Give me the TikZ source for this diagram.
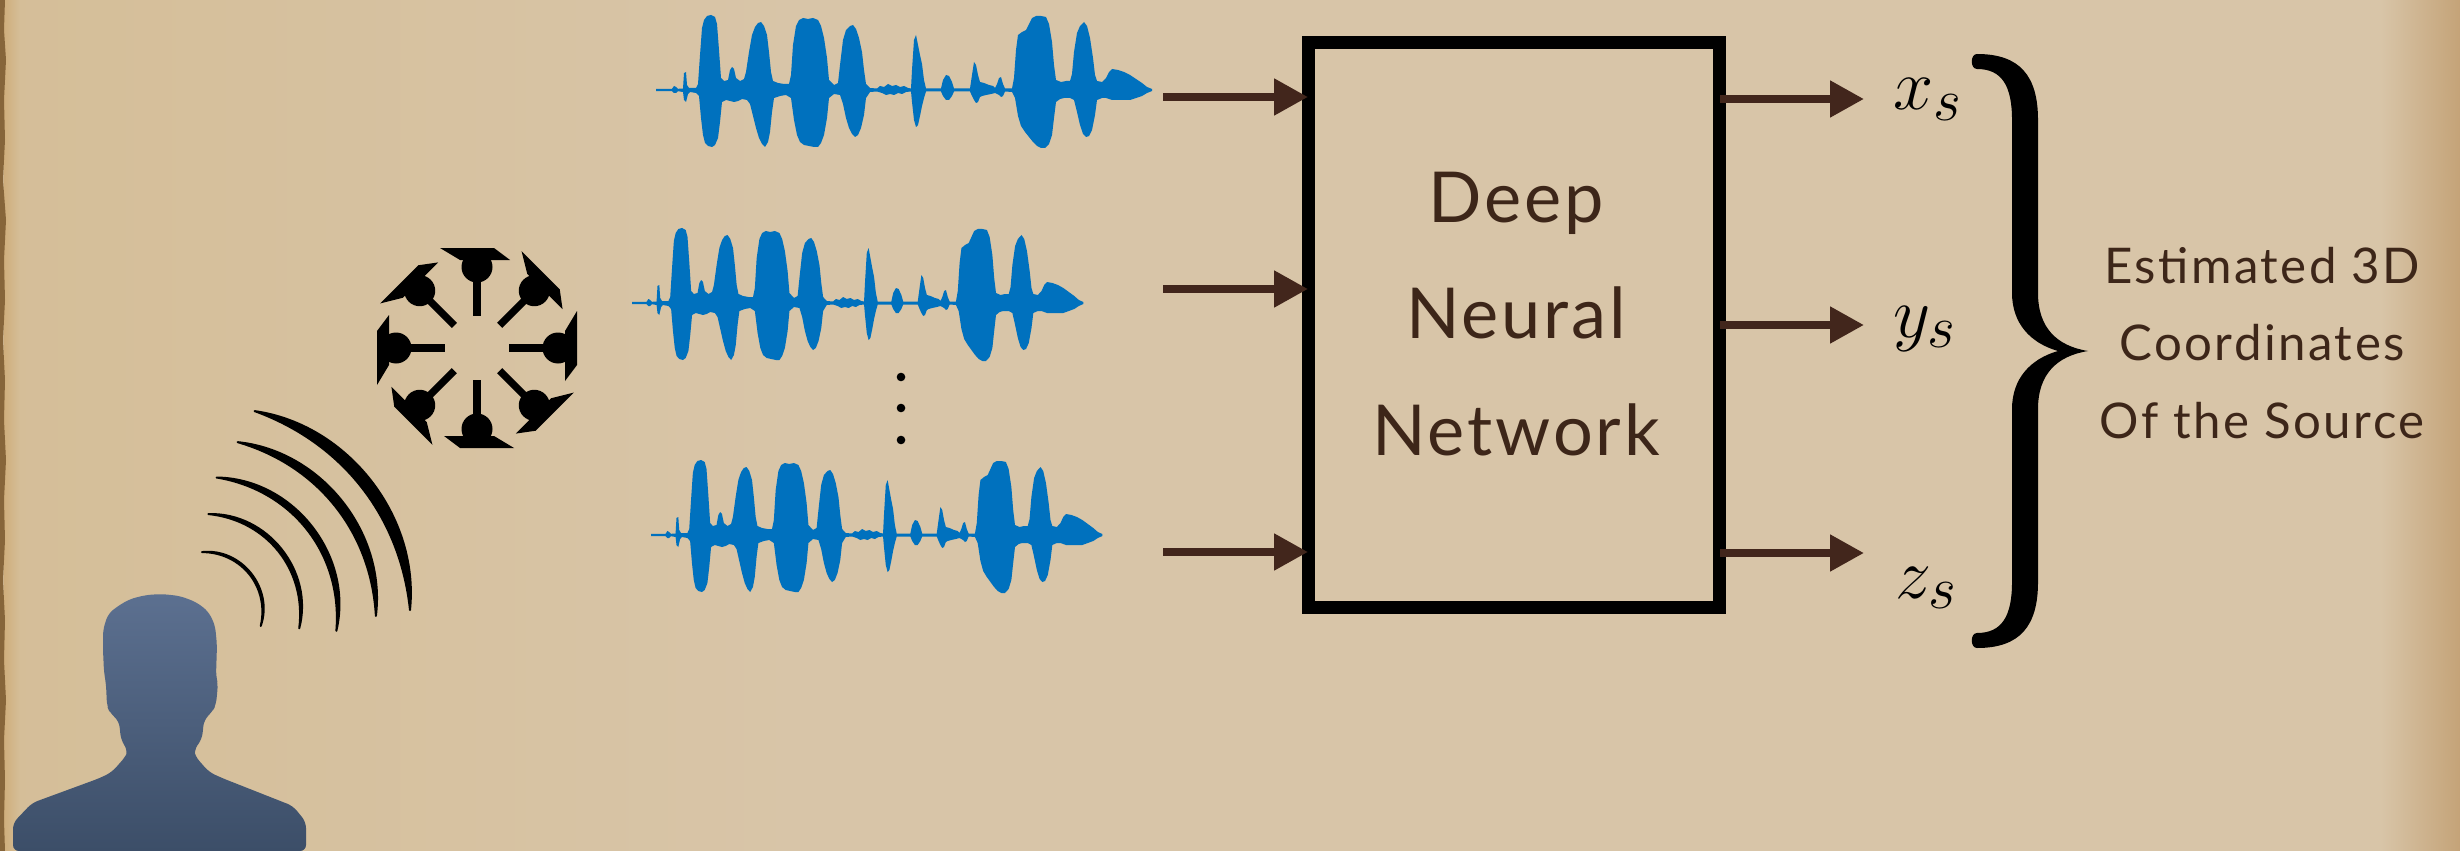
\documentclass[tikz,border=0pt]{standalone}
\usepackage{fontspec}
\usetikzlibrary{arrows.meta}
\newfontfamily\papfont{Lato}[LetterSpace=4]
\newfontfamily\sidefont{Lato}[LetterSpace=5]

\definecolor{paper}{HTML}{D8C5A8}
\definecolor{paperwarm}{HTML}{D5BE98}
\definecolor{paperdark}{HTML}{C4A378}
\definecolor{edgebrown}{HTML}{86653A}
\definecolor{edgeglow}{HTML}{CFAE7C}
\definecolor{waveblue}{RGB}{0,113,190}
\definecolor{arrowbrown}{HTML}{42261C}
\definecolor{inkbrown}{HTML}{3D2619}
\definecolor{persontop}{HTML}{5C7090}
\definecolor{personbot}{HTML}{3C4E68}

\tikzset{
  % one speech recording, origin at the left end of its zero line
  wave/.pic={
    \fill[waveblue] plot coordinates {
      (0,-1.2) (16,-1.2) (18,-4) (20,-3) (22,-1.2) (27,-1.5) (28,-17) (30,-18) (31,-5) (33,-2)
      (40,-2) (42,-6) (44,-35) (46,-62) (48,-70) (51,-74) (55,-75) (59,-73) (61,-66) (63,-40) (65,-12)
      (68,-9) (72,-10) (74,-20) (76,-23) (78,-21) (80,-12) (84,-9) (88,-11) (90,-18) (93,-38)
      (96,-55) (99,-63) (102,-67) (105,-68) (108,-64) (111,-55) (113,-38) (115,-18) (117,-9)
      (122,-7) (128,-6) (133,-6) (135,-15) (137,-45) (140,-64) (143,-70) (147,-72) (152,-71)
      (157,-72) (162,-70) (165,-64) (168,-52) (171,-32) (173,-10)
      (178,-5) (182,-7) (184,-25) (187,-50) (190,-60) (194,-64) (197,-65) (200,-61) (203,-52)
      (206,-38) (208,-20) (210,-6)
      (214,-2) (221,-1.5) (224,-4) (228,-3) (232,-6) (236,-4) (240,-5) (244,-3) (248,-4) (252,-2) (255,-1.5)
      (256,-20) (258,-50) (260,-55) (262,-45) (264,-35) (266,-26) (268,-10) (270,-1.5)
      (285,-1.5) (287,-10) (290,-15) (293,-14) (296,-8) (298,-1.5)
      (314,-1.5) (316,-15) (318,-28) (320,-25) (322,-15) (324,-8) (328,-7) (333,-5) (337,-4)
      (339,-2) (341,-6) (343,-12) (345,-13) (347,-6) (349,-1.5)
      (356,-1.5) (358,-12) (360,-40) (362,-55) (366,-58) (370,-60) (373,-66) (376,-72) (380,-74)
      (385,-74) (390,-73) (393,-66) (396,-48) (398,-25) (400,-10)
      (405,-8) (410,-9) (414,-9) (416,-16) (418,-38) (421,-57) (424,-64) (428,-68) (431,-64)
      (434,-52) (437,-32) (439,-15) (441,-9)
      (446,-8) (450,-12) (453,-18) (456,-21) (462,-20) (468,-18) (474,-15) (480,-11) (486,-7)
      (491,-3) (496,-1)
      (496,1) (491,3) (486,6) (480,8) (474,10) (468,10) (462,10) (456,10) (450,8) (446,8)
      (441,10) (439,25) (436,40) (433,46) (430,47) (427,44) (424,35) (421,22) (418,10) (414,8)
      (408,8) (404,9) (400,12) (398,28) (396,45) (393,54) (389,58) (385,58) (381,56) (377,52)
      (373,47) (369,42) (365,36) (362,26) (359,8) (356,2) (349,1.5) (347,6) (345,7) (343,5)
      (339,3) (335,4) (330,5) (326,6) (324,7) (322,12) (320,13) (318,10) (316,6) (314,1.5)
      (298,1.5) (296,6) (293,10) (290,10) (287,6) (285,1.5) (270,1.5) (268,8) (266,16) (264,26)
      (262,35) (260,37) (258,30) (256,12) (255,1.5) (250,2) (246,4) (242,3) (238,5) (234,4)
      (230,5) (226,3) (221,1.5) (214,2) (210,8) (208,25) (205,38) (202,45) (199,47) (196,44)
      (193,38) (190,28) (187,14) (184,5) (178,4) (173,8) (171,28) (168,45) (165,53) (162,57)
      (158,57) (153,56) (148,55) (144,52) (141,45) (138,30) (135,8) (130,5) (124,6) (118,8)
      (116,22) (114,42) (112,52) (109,57) (106,54) (103,48) (100,38) (97,26) (94,14) (91,10)
      (86,9) (82,11) (78,12) (74,11) (70,10) (66,12) (64,32) (62,48) (59,55) (56,57) (52,56)
      (49,53) (47,45) (45,28) (43,6) (40,3) (34,2) (32,4) (30,12) (28,10) (27,2) (22,1.2)
      (20,3) (18,3) (16,1.2) (0,1.2)
    } -- cycle;
  },
  % one microphone of the circular array, pointing to the array centre
  mic/.pic={
    \fill[black] (-37,-100) -- (17,-100) -- (33,-88) -- (-17,-88) -- cycle;
    \fill[black] (0,-81) circle[radius=15.5];
    \fill[black] (-3.7,-81) rectangle (3.7,-32);
  },
  arr/.style={draw=arrowbrown, line width=0.16cm, -{Triangle[length=0.68cm,width=0.70cm]}},
  dnnbox/.style={draw=black, line width=0.26cm, minimum width=8.24cm, minimum height=11.32cm,
    inner sep=0pt, outer sep=0pt},
  boxlabel/.style={text=inkbrown, font=\papfont\fontsize{40}{66.5}\selectfont, align=center, inner sep=0pt},
  sidelabel/.style={text=inkbrown, font=\sidefont\fontsize{28}{44}\selectfont, align=center, inner sep=0pt},
  coordlabel/.style={font=\fontsize{24.88}{25}\selectfont, inner sep=0pt, anchor=base west},
  soundarc/.style={fill=black, draw=black, line width=0.04cm, line join=round},
  dot/.style={fill=black}
}

\begin{document}
\begin{tikzpicture}[x=0.02cm, y=-0.02cm]
\useasboundingbox (0,0) rectangle (2460,851);

% parchment
\fill[paper] (0,0) rectangle (2460,851);
\shade[left color=paperwarm, right color=paper] (0,0) rectangle (800,851);
\shade[left color=paper, right color=paperdark] (2380,0) rectangle (2460,851);
\shade[left color=edgeglow, right color=paperwarm] (4,0) rectangle (20,851);
\fill[edgebrown] (0,0) -- (5,0) -- (4,30) -- (6,60) -- (4,100) -- (5,140) -- (3,180) -- (6,220)
  -- (4,260) -- (5,300) -- (3,340) -- (5,380) -- (4,420) -- (6,460) -- (4,500) -- (5,540)
  -- (3,580) -- (5,620) -- (4,660) -- (6,700) -- (4,740) -- (5,780) -- (4,820) -- (5,851)
  -- (0,851) -- cycle;

% speaker
\shade[top color=persontop, bottom color=personbot, rounded corners=0.12cm]
  (13,851) -- (13,823) -- (32,803) -- (100,778) -- (112,772) -- (126,756) -- (128,751)
  -- (121,740) -- (119,721) -- (110,713) -- (107,706) -- (106,684) -- (104,672) -- (103,650)
  -- (103,630) -- (108,614) -- (118,606) -- (130,599) -- (146,595) -- (162,594) -- (180,596)
  -- (196,602) -- (208,611) -- (215,625) -- (217,645) -- (216,676) -- (218,684) -- (216,705)
  -- (212,712) -- (204,720) -- (202,739) -- (194,750) -- (195,756) -- (209,772) -- (222,778)
  -- (293,806) -- (306,822) -- (306,851) -- cycle;

% sound radiating from the speaker
\coordinate (wc) at (205,610);
\fill[soundarc] ([shift={(-93:58)}]wc) .. controls +(-6.2:39.8) and +(-70.8:39.8) .. ([shift={(16:58)}]wc)
  .. controls +(-77.2:39.8) and +(0.2:39.8) .. ([shift={(-93:58)}]wc) -- cycle;
\fill[soundarc] ([shift={(-88:96)}]wc) .. controls +(-1.8:59) and +(-75.2:59) .. ([shift={(11:96)}]wc)
  .. controls +(-82.8:59) and +(5.8:59) .. ([shift={(-88:96)}]wc) -- cycle;
\fill[soundarc] ([shift={(-85:133)}]wc) .. controls +(0.7:77) and +(-76.7:77) .. ([shift={(9:133)}]wc)
  .. controls +(-85.3:77) and +(9.3:77) .. ([shift={(-85:133)}]wc) -- cycle;
\fill[soundarc] ([shift={(-79:171)}]wc) .. controls +(5.8:84) and +(-82.8:84) .. ([shift={(2:171)}]wc)
  .. controls +(-93.2:84) and +(16.2:84) .. ([shift={(-79:171)}]wc) -- cycle;
\fill[soundarc] ([shift={(-76:205)}]wc) .. controls +(8:94) and +(-84:94) .. ([shift={(0:205)}]wc)
  .. controls +(-96:94) and +(20:94) .. ([shift={(-76:205)}]wc) -- cycle;

% circular microphone array
\foreach \a in {0,45,...,315}
  \pic[rotate=\a] at (477,348) {mic};

% recorded channels
\pic at (656,90) {wave};
\pic[xscale=0.91] at (632,303) {wave};
\pic[xscale=0.91] at (651,535) {wave};
\fill[dot] (901,377) circle[radius=4.3];
\fill[dot] (901,408) circle[radius=4.3];
\fill[dot] (901,440) circle[radius=4.3];

% network
\node[dnnbox] (dnn) at (1514,325) {};
\node[boxlabel] (dnntext) at (1516,314) {Deep\\Neural\\Network};

\coordinate (i1) at (1163,97);
\coordinate (i2) at (1163,289);
\coordinate (i3) at (1163,552);
\draw[arr] (i1) -- (i1 -| dnn.west);
\draw[arr] (i2) -- (i2 -| dnn.west);
\draw[arr] (i3) -- (i3 -| dnn.west);

\coordinate (o1) at (1864,99);
\coordinate (o2) at (1864,325);
\coordinate (o3) at (1864,553);
\draw[arr] (o1 -| dnn.east) -- (o1);
\draw[arr] (o2 -| dnn.east) -- (o2);
\draw[arr] (o3 -| dnn.east) -- (o3);

\node[coordlabel] (xs) at (1893,110) {\scalebox{1.65}{$x_s$}};
\node[coordlabel] (ys) at (1893,337) {\scalebox{1.65}{$y_s$}};
\node[coordlabel] (zs) at (1895,598) {\scalebox{1.65}{$z_s$}};

% brace grouping the three outputs
\fill[black] (1977,54) .. controls (2020,54) and (2038,76) .. (2038,120)
  -- (2038,293) .. controls (2038,328) and (2057,346) .. (2088,351)
  .. controls (2057,356) and (2038,374) .. (2038,409)
  -- (2038,582) .. controls (2038,626) and (2020,648) .. (1977,648)
  .. controls (1970,648) and (1970,633) .. (1977,633)
  .. controls (2002,633) and (2012,616) .. (2012,582)
  -- (2012,409) .. controls (2012,379) and (2030,359) .. (2058,351)
  .. controls (2030,343) and (2012,323) .. (2012,293)
  -- (2012,120) .. controls (2012,86) and (2002,69) .. (1977,69)
  .. controls (1970,69) and (1970,54) .. (1977,54) -- cycle;

\node[sidelabel] (result) at (2262,343) {Estimated 3D\\Coordinates\\Of the Source};
\end{tikzpicture}
\end{document}
